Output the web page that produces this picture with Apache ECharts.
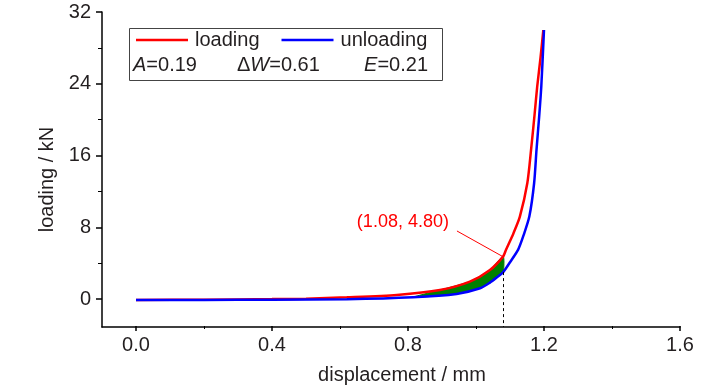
<!DOCTYPE html>
<html>
<head>
<meta charset="utf-8">
<script src="https://cdn.jsdelivr.net/npm/echarts@6/dist/echarts.min.js"></script>
<style>html,body{margin:0;padding:0;background:#fff}#c{width:728px;height:390px}</style>
</head>
<body>
<div id="c"></div>
<script>
// ---- data ----
var loadingCurve = [[0,0],[0.2,0.04],[0.4,0.1],[0.5,0.15],[0.62,0.3],[0.767,0.56],[0.894,1.11],[0.982,2.04],[1.041,3.33],[1.08,4.85],[1.088,5.56],[1.11,7.4],[1.129,9.26],[1.151,13.0],[1.162,16.7],[1.172,20.5],[1.18,23.7],[1.19,27.0],[1.198,30.0]];
var unloadingCurve = [[0,0],[0.2,0.01],[0.4,0.03],[0.62,0.08],[0.815,0.3],[0.943,0.67],[1.012,1.3],[1.04,1.9],[1.061,2.5],[1.08,3.1],[1.10,4.2],[1.124,5.6],[1.14,7.2],[1.157,9.3],[1.171,13.0],[1.178,16.7],[1.185,20.0],[1.192,23.7],[1.2,30.0]];
var fillFrom = 0.8;
var annotX = 1.08, annotY = 4.80, annotBlueY = 3.1;
var annotLabelPos = [0.785, 8.67];
var annotLeaderStart = [0.944, 7.67];
var xTicks = {min: 0, max: 1.6, interval: 0.4};
var yTicks = {min: 0, max: 32, interval: 8};
var axisExtentX = [-0.1, 1.6];
var axisExtentY = [-3, 32];
var statA = '0.19', statDW = '0.61', statE = '0.21';
var names = ['loading', 'unloading'];
var xName = 'displacement / mm', yName = 'loading / kN';

var FONT = '"Liberation Sans", Arial, sans-serif';
var FS = 20;
var TXT = '#231f20';

var chart = echarts.init(document.getElementById('c'), null, {renderer: 'canvas'});

function fillPolygon(params, api) {
  var pts = [];
  loadingCurve.forEach(function (p) { if (p[0] >= fillFrom && p[0] <= annotX) pts.push(api.coord(p)); });
  var back = [];
  unloadingCurve.forEach(function (p) { if (p[0] >= fillFrom && p[0] <= annotX) back.push(api.coord(p)); });
  back.reverse();
  pts = pts.concat(back);
  return {type: 'polygon', shape: {points: pts, smooth: 0.2}, style: {fill: '#008000', stroke: '#008000', lineWidth: 1}};
}

var rich = {i: {fontStyle: 'italic', fontFamily: FONT, fontSize: FS, fill: TXT}};

chart.setOption({
  animation: false,
  backgroundColor: '#fff',
  grid: [
    {left: 102, right: 48, top: 12, bottom: 63},
    {left: 136, right: 48, top: 12, bottom: 90}
  ],
  legend: {
    data: names,
    left: 136, top: 30, padding: 0,
    icon: 'rect', itemWidth: 52, itemHeight: 2.5, itemGap: 22,
    textStyle: {fontFamily: FONT, fontSize: FS, color: TXT, padding: [0, 0, 0, 2]}
  },
  xAxis: [
    {gridIndex: 0, type: 'value', min: axisExtentX[0], max: axisExtentX[1],
     axisLine: {show: true, onZero: false, lineStyle: {color: '#000', width: 1.5}},
     axisTick: {show: false}, axisLabel: {show: false}, splitLine: {show: false}},
    {gridIndex: 1, type: 'value', min: xTicks.min, max: xTicks.max, interval: xTicks.interval, offset: 27,
     axisLine: {show: false, onZero: false},
     axisTick: {show: true, length: 5, lineStyle: {color: '#000', width: 1.5}},
     minorTick: {show: true, splitNumber: 2, length: 3, lineStyle: {color: '#000', width: 1}},
     axisLabel: {fontFamily: FONT, fontSize: FS, color: TXT, margin: 9, formatter: function (v) { return v.toFixed(1); }},
     splitLine: {show: false},
     name: xName, nameLocation: 'middle', nameGap: 39,
     nameTextStyle: {fontFamily: FONT, fontSize: FS, color: TXT, padding: [0, 12, 0, 0]}}
  ],
  yAxis: [
    {gridIndex: 0, type: 'value', min: axisExtentY[0], max: axisExtentY[1],
     axisLine: {show: true, onZero: false, lineStyle: {color: '#000', width: 1.5}},
     axisTick: {show: false}, axisLabel: {show: false}, splitLine: {show: false},
     name: yName, nameLocation: 'middle', nameGap: 45,
     nameTextStyle: {fontFamily: FONT, fontSize: FS, color: TXT, padding: [0, 20, 0, 0]}},
    {gridIndex: 1, type: 'value', min: yTicks.min, max: yTicks.max, interval: yTicks.interval, offset: 34,
     axisLine: {show: false, onZero: false},
     axisTick: {show: true, length: 6, lineStyle: {color: '#000', width: 1.5}},
     minorTick: {show: true, splitNumber: 2, length: 4, lineStyle: {color: '#000', width: 1}},
     axisLabel: {fontFamily: FONT, fontSize: FS, color: TXT, margin: 11},
     splitLine: {show: false}}
  ],
  series: [
    {type: 'custom', xAxisIndex: 0, yAxisIndex: 0, data: [[annotX, annotY]], renderItem: fillPolygon, z: 1, silent: true},
    {name: names[0], type: 'line', xAxisIndex: 0, yAxisIndex: 0, data: loadingCurve,
     showSymbol: false, smooth: 0.25, z: 2,
     lineStyle: {color: '#ff0000', width: 2.5}, itemStyle: {color: '#ff0000'},
     markLine: {silent: true, symbol: ['none', 'none'], label: {show: false},
       lineStyle: {color: '#ff0000', width: 1, type: 'solid'},
       data: [[{coord: annotLeaderStart}, {coord: [annotX, annotY]}]]},
     markPoint: {silent: true, symbol: 'circle', symbolSize: 1, itemStyle: {color: 'rgba(0,0,0,0)'},
       label: {show: true, position: 'inside', fontFamily: FONT, fontSize: 18, color: '#ff0000',
         formatter: '(' + annotX.toFixed(2) + ', ' + annotY.toFixed(2) + ')'},
       data: [{coord: annotLabelPos}]}},
    {name: names[1], type: 'line', xAxisIndex: 0, yAxisIndex: 0, data: unloadingCurve,
     showSymbol: false, smooth: 0.25, z: 3,
     lineStyle: {color: '#0000ff', width: 2.5}, itemStyle: {color: '#0000ff'},
     markLine: {silent: true, symbol: ['none', 'none'], label: {show: false},
       lineStyle: {color: '#000', width: 1, type: [3, 3]},
       data: [[{coord: [annotX, annotBlueY]}, {coord: [annotX, axisExtentY[0]]}]]}}
  ],
  graphic: [
    {type: 'rect', left: 127, top: 26, shape: {width: 313, height: 52}, style: {fill: 'none', stroke: '#444', lineWidth: 1}, z: 10},
    {type: 'text', left: 133, top: 55, z: 10, style: {text: '{i|A}=' + statA, rich: rich, fontFamily: FONT, fontSize: FS, fill: TXT}},
    {type: 'text', left: 237, top: 55, z: 10, style: {text: 'Δ{i|W}=' + statDW, rich: rich, fontFamily: FONT, fontSize: FS, fill: TXT}},
    {type: 'text', right: 300, top: 55, z: 10, style: {text: '{i|E}=' + statE, rich: rich, fontFamily: FONT, fontSize: FS, fill: TXT}}
  ]
});
</script>
</body>
</html>
